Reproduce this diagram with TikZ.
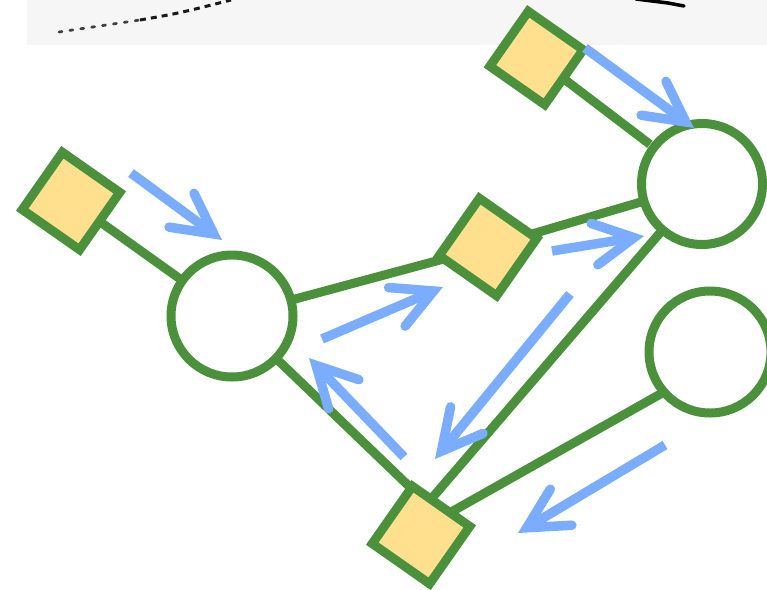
\documentclass[tikz,border=0pt]{standalone}
\usetikzlibrary{arrows.meta,backgrounds}
\definecolor{lgreen}{RGB}{75,144,59}
\definecolor{lblue}{RGB}{122,172,255}
\definecolor{lyellow}{RGB}{255,224,143}
\definecolor{stripgray}{RGB}{246,246,246}
\begin{document}
\begin{tikzpicture}[x=1pt,y=-1pt,
  sqnode/.style={draw=lgreen, line width=9pt, fill=lyellow, minimum size=70pt, inner sep=0pt, outer sep=0pt, rotate=-35},
  circnode/.style={circle, draw=lgreen, line width=9pt, fill=white, minimum size=122pt, inner sep=0pt, outer sep=0pt},
  link/.style={draw=lgreen, line width=9pt},
  flow/.style={draw=lblue, line width=9.5pt, -{Straight Barb[length=40pt,width=42pt,line cap=round]}}]
\useasboundingbox (0,0) rectangle (767,589);
% nodes
\node[sqnode] (s1) at (71,201) {};
\node[sqnode, minimum size=67pt] (s2) at (536.5,58) {};
\node[sqnode] (s3) at (488,247) {};
\node[sqnode] (s4) at (421,535) {};
\node[circnode] (c1) at (232,316) {};
\node[circnode, minimum size=121pt] (c2) at (702,184) {};
\node[circnode] (c3) at (710,352) {};
% inner end points
\coordinate (s4a) at (440,516);
\coordinate (s4b) at (420,512);
\coordinate (s4c) at (421,529);
\begin{pgfonlayer}{background}
  \fill[stripgray] (27,0) rectangle (767,45);
  \draw[black!75, line width=2.8pt, dash pattern=on 3pt off 8pt, line cap=round] (59,32) -- (140,20);
  \draw[black!90, line width=3pt, dash pattern=on 6pt off 5pt] (140,20) .. controls (180,13) .. (231,0);
  \draw[black, line width=3.5pt, line cap=round] (636,-1) -- (668,3) -- (684,6);
  \draw[link] (s1) -- (c1);
  \draw[link, shorten >=5pt] (s2) -- (c2);
  \draw[link] (c1) -- (s3);
  \draw[link] (s3) -- (c2);
  \draw[link] (c1) -- (s4a);
  \draw[link] (c2) -- (s4b);
  \draw[link] (s4c) -- (c3.221);
\end{pgfonlayer}
% flow arrows
\coordinate (a1s) at (131,173); \coordinate (a1e) at (222,240);
\coordinate (a2s) at (585,48);  \coordinate (a2e) at (694,128);
\coordinate (a3s) at (552,251); \coordinate (a3e) at (644,236);
\coordinate (a4s) at (322,339); \coordinate (a4e) at (443,287);
\coordinate (a5s) at (404,457); \coordinate (a5e) at (309,358);
\coordinate (a6s) at (570,294); \coordinate (a6e) at (435,459);
\coordinate (a7s) at (665,445); \coordinate (a7e) at (518,533);
\draw[flow] (a1s) -- (a1e);
\draw[flow] (a2s) -- (a2e);
\draw[flow] (a3s) -- (a3e);
\draw[flow] (a4s) -- (a4e);
\draw[flow] (a5s) -- (a5e);
\draw[flow] (a6s) -- (a6e);
\draw[flow] (a7s) -- (a7e);
\end{tikzpicture}
\end{document}
